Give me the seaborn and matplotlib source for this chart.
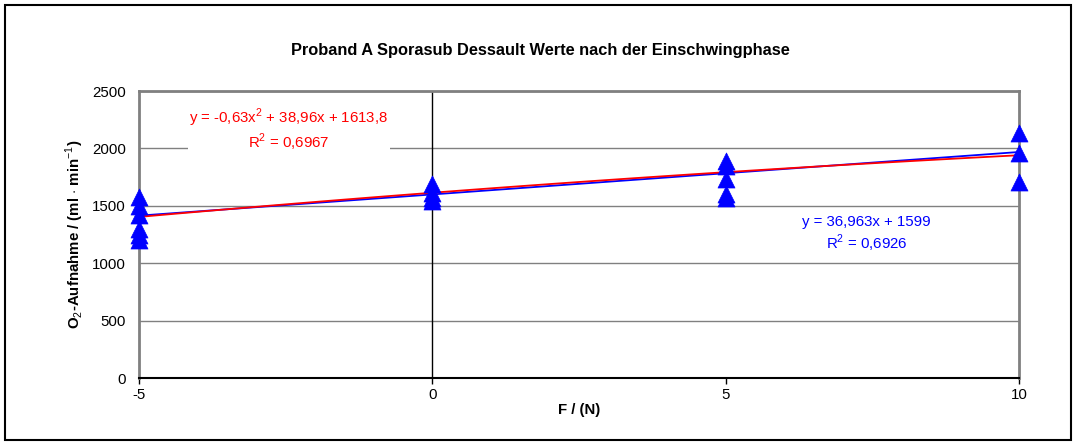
import numpy as np
import pandas as pd
import matplotlib
matplotlib.use("Agg")
import matplotlib.pyplot as plt
import seaborn as sns

# Data
force = [-5, -5, -5, -5, -5, -5,
         0, 0, 0, 0,
         5, 5, 5, 5, 5,
         10, 10, 10]
o2 = [1200, 1250, 1300, 1420, 1500, 1580,
      1540, 1570, 1610, 1690,
      1570, 1600, 1730, 1850, 1890,
      1710, 1960, 2130]

lin_coef = [36.963, 1599]          # y = a x + b
quad_coef = [-0.63, 38.96, 1613.8]  # y = a x^2 + b x + c

title = "Proband A Sporasub Dessault Werte nach der Einschwingphase"
xlabel = "F / (N)"
ylabel = "O$_2$-Aufnahme / (ml $\\cdot$ min$^{-1}$)"
x_ticks = [-5, 0, 5, 10]
y_ticks = [0, 500, 1000, 1500, 2000, 2500]
lin_label = "y = 36,963x + 1599\nR$^2$ = 0,6926"
quad_label = "y = -0,63x$^2$ + 38,96x + 1613,8\nR$^2$ = 0,6967"

sns.set_style("white")
plt.rcParams['font.family'] = ['Liberation Sans', 'DejaVu Sans']
plt.rcParams['mathtext.fontset'] = 'custom'
plt.rcParams['mathtext.rm'] = 'Liberation Sans'
plt.rcParams['mathtext.bf'] = 'Liberation Sans:bold'
plt.rcParams['text.color'] = 'black'
plt.rcParams['axes.labelcolor'] = 'black'
plt.rcParams['xtick.color'] = 'black'
plt.rcParams['ytick.color'] = 'black'

FS = 10.8

fig = plt.figure(figsize=(10.77, 4.44), dpi=100)
ax = fig.add_axes([139/1077, 1 - 378/444, (1019-139)/1077, (378-91)/444])

# outer frame of the chart
fig.patches.append(plt.Rectangle((5/1077, 4/444), 1066/1077, 435/444,
                                 transform=fig.transFigure, fill=False,
                                 edgecolor='black', linewidth=1.5))

df = pd.DataFrame({"F": force, "O2": o2})
xs = np.linspace(-5, 10, 100)
trend = pd.DataFrame({
    "x": xs,
    "lin": np.polyval(lin_coef, xs),
    "quad": np.polyval(quad_coef, xs),
})

ax.set_xlim(-5, 10)
ax.set_ylim(0, 2500)
for yv in y_ticks[1:]:
    ax.axhline(yv, color='#808080', linewidth=1.0, zorder=1)
ax.axvline(0, color='black', linewidth=1.0, zorder=1.5)

sns.lineplot(data=trend, x="x", y="lin", ax=ax, color='#0000FF', linewidth=1.3, zorder=3)
sns.lineplot(data=trend, x="x", y="quad", ax=ax, color='#FF0000', linewidth=1.3, zorder=3.5)
sns.scatterplot(data=df, x="F", y="O2", ax=ax, marker='^', s=150, color='#0000FF',
                edgecolor='#0000FF', linewidth=0.5, zorder=4, clip_on=False)

ax.set_xticks(x_ticks)
ax.set_yticks(y_ticks)
ax.set_xticklabels([str(v) for v in x_ticks], fontsize=FS)
ax.set_yticklabels([str(v) for v in y_ticks], fontsize=FS)
ax.tick_params(axis='x', bottom=True, length=4, width=1, color='black', pad=3)
ax.tick_params(axis='y', left=False, pad=6)

for side in ['left', 'right', 'top']:
    ax.spines[side].set_color('#808080')
    ax.spines[side].set_linewidth(2)
ax.spines['bottom'].set_color('black')
ax.spines['bottom'].set_linewidth(1.5)

ax.set_xlabel(xlabel, fontsize=FS, fontweight='bold', labelpad=1)
ax.set_ylabel(ylabel, fontsize=FS, fontweight='bold', labelpad=4)
fig.text(540/1077, 1 - 50/444, title, ha='center', va='center',
         fontsize=11.8, fontweight='bold')

ax.text(-2.45, 2160, quad_label, ha='center', va='center', color='#FF0000',
        fontsize=FS, linespacing=1.2, zorder=5,
        bbox=dict(facecolor='white', edgecolor='none', pad=1))
ax.text(7.4, 1250, lin_label, ha='center', va='center', color='#0000FF',
        fontsize=FS, linespacing=1.2, zorder=5,
        bbox=dict(facecolor='white', edgecolor='none', pad=1))

fig.savefig("out.png", dpi=100, facecolor='white')
